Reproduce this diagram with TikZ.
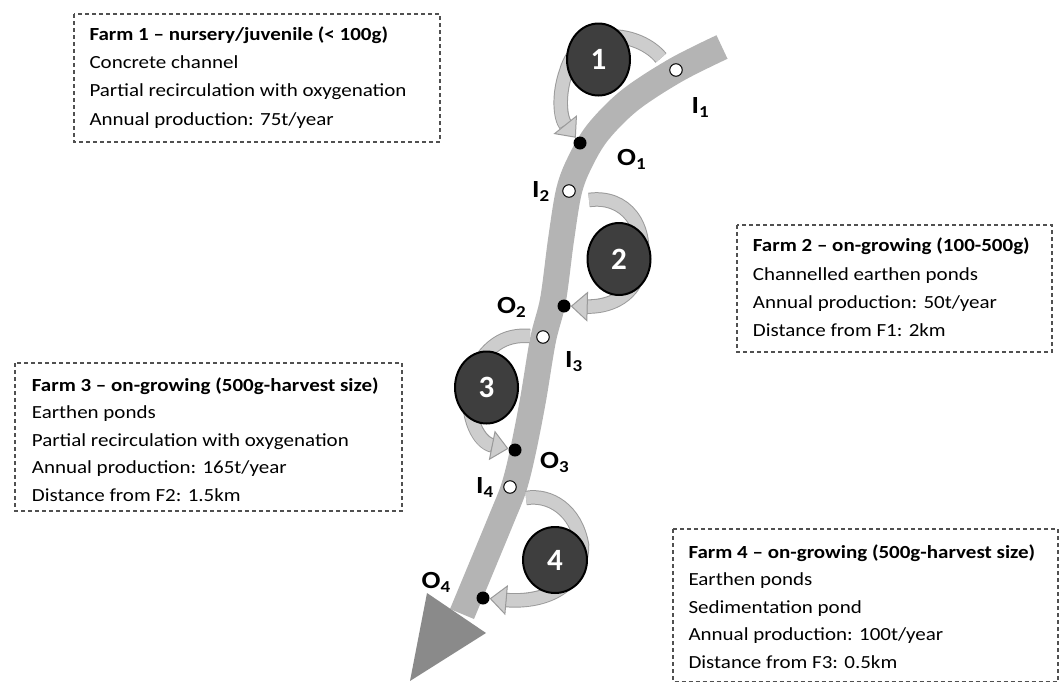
\documentclass[tikz,border=0pt]{standalone}
\usepackage{fontspec}
\usepackage{graphicx}
\setmainfont{Carlito}
\usetikzlibrary{arrows.meta,shapes.geometric}
\definecolor{bandcol}{HTML}{B4B4B4}
\definecolor{headcol}{HTML}{8A8A8A}
\definecolor{arrowfill}{HTML}{CDCDCD}
\definecolor{arrowedge}{HTML}{9A9A9A}
\definecolor{circfill}{HTML}{3E3E3E}
\definecolor{boxline}{HTML}{505050}
\newcommand\lsub[1]{{\fontsize{19}{19}\selectfont\raisebox{-5pt}{#1}}}
\newcommand\sq[1]{\scalebox{1}[0.88]{#1}}
\tikzset{
  farmbox/.style={draw=boxline, line width=1.1pt, dash pattern=on 4pt off 3pt},
  boxtxt/.style={anchor=base west, inner sep=0pt, font=\fontsize{21}{24}\selectfont},
  boxtitle/.style={anchor=base west, inner sep=0pt, font=\fontsize{21}{24}\selectfont\bfseries},
  farm/.style={ellipse, draw=black, line width=2pt, fill=circfill, text=white,
    font=\fontsize{31}{31}\selectfont\bfseries, minimum width=63pt, minimum height=72pt, inner sep=0pt},
  inlet/.style={circle, draw=black, fill=white, line width=1pt, minimum size=12.5pt, inner sep=0pt},
  outlet/.style={circle, fill=black, minimum size=13pt, inner sep=0pt},
  lbl/.style={anchor=base west, inner sep=0pt, font=\fontsize{28}{28}\selectfont\bfseries},
  flow/.style={draw=arrowfill, line width=12.5pt,
    -{Triangle[length=17pt, width=30pt, line width'=1pt, color=arrowedge, fill=arrowfill]},
    preaction={draw=arrowedge, line width=14.5pt, -, shorten >=16pt}},
}
\begin{document}
\begin{tikzpicture}[x=1pt,y=-1pt]
\useasboundingbox (0,0) rectangle (1063,683);

% main stream
\draw[bandcol, line width=26pt] plot[smooth, tension=0.55] coordinates
  {(722,47) (676,70) (630,100) (598,132) (580,162) (569,191) (561,240) (553,300)
   (543,340) (533,400) (523,451) (514,487) (501,520) (462,614)};
\fill[headcol] (427,593) -- (486,633) -- (410,681) -- cycle;

% inlet / outlet points
\node[inlet]  (i1) at (676,70) {};
\node[outlet] (o1) at (580,143) {};
\node[inlet]  (i2) at (569,191) {};
\node[outlet] (o2) at (564,306) {};
\node[inlet]  (i3) at (543,337) {};
\node[outlet] (o3) at (515,450) {};
\node[inlet]  (i4) at (510,487) {};
\node[outlet] (o4) at (483,598) {};

\coordinate (s1) at (661,58);
\coordinate (s2) at (589,200);
\coordinate (s3) at (530,336);
\coordinate (s4) at (526,498);

% flows through the farms
\draw[flow] (s1) .. controls (640,32) and (580,22) .. (566,72) .. controls (558,95) and (560,118) .. (o1);
\draw[flow] (s2) .. controls (625,195) and (650,225) .. (640,270) .. controls (632,300) and (605,307) .. (o2);
\draw[flow] (s3) .. controls (505,334) and (485,345) .. (470,380) .. controls (465,420) and (480,443) .. (o3);
\draw[flow] (s4) .. controls (550,494) and (576,510) .. (582,545) .. controls (582,590) and (540,603) .. (o4);

% farms
\node[farm] (f1) at (598.5,59.5) {1};
\node[farm] (f2) at (619,259) {2};
\node[farm] (f3) at (486.5,387.5) {3};
\node[farm, minimum width=64pt, minimum height=66pt] (f4) at (555,560) {4};

% point labels
\node[lbl] (li1) at (691.5,113) {\sq{I\lsub{1}}};
\node[lbl] (lo1) at (617,165) {\sq{O\lsub{1}}};
\node[lbl] (li2) at (532,197) {\sq{I\lsub{2}}};
\node[lbl] (lo2) at (497,313) {\sq{O\lsub{2}}};
\node[lbl] (li3) at (565,367) {\sq{I\lsub{3}}};
\node[lbl] (lo3) at (540,468) {\sq{O\lsub{3}}};
\node[lbl] (li4) at (476,493) {\sq{I\lsub{4}}};
\node[lbl] (lo4) at (421.5,588) {\sq{O\lsub{4}}};

% info boxes
\draw[farmbox] (74,14) rectangle (440,142);
\node[boxtitle] (b1t) at (89.3,40) {\sq{Farm 1 – nursery/juvenile (< 100g)}};
\node[boxtxt] (b1a) at (89.3,68.3) {\sq{Concrete channel}};
\node[boxtxt] (b1b) at (89.3,96.7) {\sq{Partial recirculation with oxygenation}};
\node[boxtxt] (b1c) at (89.3,125) {\sq{Annual production: 75t/year}};

\draw[farmbox] (737,225) rectangle (1052,352);
\node[boxtitle] (b2t) at (752.7,251.7) {\sq{Farm 2 – on-growing (100-500g)}};
\node[boxtxt] (b2a) at (752.7,280) {\sq{Channelled earthen ponds}};
\node[boxtxt] (b2b) at (752.7,308.3) {\sq{Annual production: 50t/year}};
\node[boxtxt] (b2c) at (752.7,336.7) {\sq{Distance from F1: 2km}};

\draw[farmbox] (15,363) rectangle (402,511);
\node[boxtitle] (b3t) at (31.7,391.7) {\sq{Farm 3 – on-growing (500g-harvest size)}};
\node[boxtxt] (b3a) at (31.7,418.5) {\sq{Earthen ponds}};
\node[boxtxt] (b3b) at (31.7,446.2) {\sq{Partial recirculation with oxygenation}};
\node[boxtxt] (b3c) at (31.7,473.5) {\sq{Annual production: 165t/year}};
\node[boxtxt] (b3d) at (31.7,501.2) {\sq{Distance from F2: 1.5km}};

\draw[farmbox] (673,529) rectangle (1058,681.5);
\node[boxtitle] (b4t) at (688.3,558) {\sq{Farm 4 – on-growing (500g-harvest size)}};
\node[boxtxt] (b4a) at (688.3,585.3) {\sq{Earthen ponds}};
\node[boxtxt] (b4b) at (688.3,613) {\sq{Sedimentation pond}};
\node[boxtxt] (b4c) at (688.3,640.3) {\sq{Annual production: 100t/year}};
\node[boxtxt] (b4d) at (688.3,668) {\sq{Distance from F3: 0.5km}};
\end{tikzpicture}
\end{document}
